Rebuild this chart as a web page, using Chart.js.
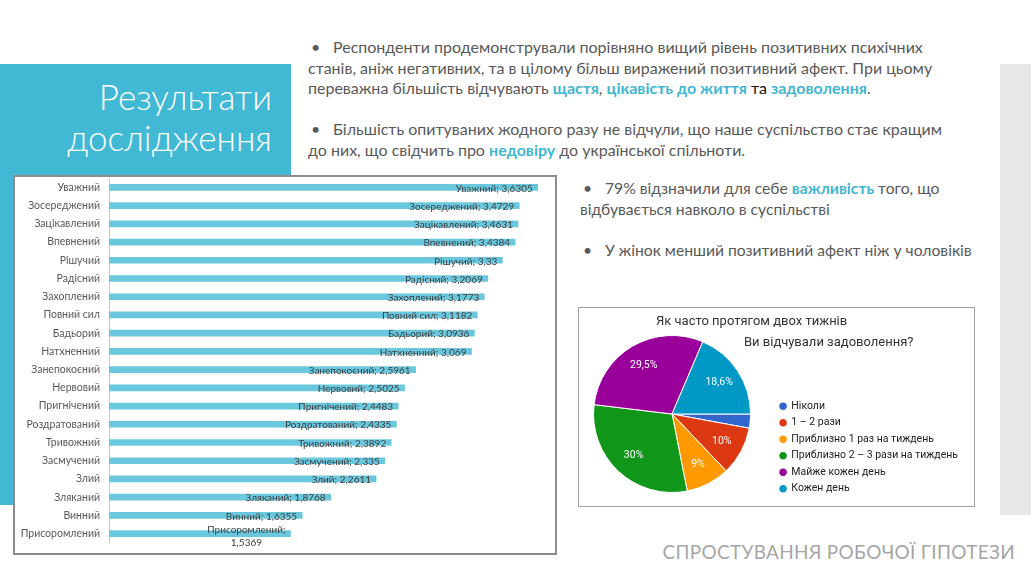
<!DOCTYPE html>
<html lang="uk">
<head>
<meta charset="utf-8">
<script src="https://cdn.jsdelivr.net/npm/chart.js@4.4.0/dist/chart.umd.min.js"></script>
<style>
  body { margin: 0; width: 1031px; height: 580px; position: relative; overflow: hidden; background: #fff; font-family: Lato, "Open Sans", sans-serif; color: #595959; }
  .band { position: absolute; left: 0; top: 64px; width: 291px; height: 441px; background: #41b8d4; }
  .side { position: absolute; left: 1000px; top: 64px; width: 31px; height: 451px; background: #e7e7e7; }
  .head { position: absolute; left: 0; top: 76px; width: 272px; text-align: right; color: #fff; font-size: 35px; line-height: 41px; font-weight: 300; }
  .txt { position: absolute; white-space: nowrap; }
  .top { left: 308px; top: 37px; font-size: 16px; line-height: 20.5px; }
  .right { left: 580px; top: 178px; font-size: 15.7px; line-height: 20.5px; }
  .b { display: inline-block; width: 22px; padding-left: 3px; }
  .hl { color: #3fb6d2; font-weight: 700; }
  .blk { color: #111; }
  .foot { position: absolute; right: 16px; top: 540px; font-size: 19px; color: #a6a6a6; letter-spacing: 0.3px; }
  .barbox { position: absolute; left: 13px; top: 175px; width: 544px; height: 380px; box-sizing: border-box; border: 2px solid #8c8c8c; background: #fff; }
  .barwrap { position: absolute; left: 15px; top: 172px; width: 540px; height: 377px; }
  .piebox { position: absolute; left: 578px; top: 307px; width: 397px; height: 200px; box-sizing: border-box; border: 1px solid #a0a0a0; background: #fff; }
  .piewrap { position: absolute; left: 570px; top: 308px; width: 404px; height: 198px; }
  .pt { position: absolute; white-space: nowrap; font-family: Roboto, Arial, sans-serif; font-size: 13px; color: #333; }
</style>
</head>
<body>
<div class="band"></div>
<div class="side"></div>
<div class="head">Результати<br>дослідження</div>

<div class="txt top">
  <span class="b">•</span>Респонденти продемонстрували порівняно вищий рівень позитивних психічних<br>
  станів, аніж негативних, та в цілому більш виражений позитивний афект. При цьому<br>
  переважна більшість відчувають <span class="hl">щастя</span>, <span class="hl">цікавість до життя</span> <span class="blk">та</span> <span class="hl">задоволення</span>.<br>
  <br>
  <span class="b">•</span>Більшість опитуваних жодного разу не відчули, що наше суспільство стає кращим<br>
  до них, що свідчить про <span class="hl">недовіру</span> до української спільноти.
</div>

<div class="txt right">
  <span class="b">•</span>79% відзначили для себе <span class="hl">важливість</span> того, що<br>
  відбувається навколо в суспільстві<br>
  <br>
  <span class="b">•</span>У жінок менший позитивний афект ніж у чоловіків
</div>

<div class="foot">СПРОСТУВАННЯ РОБОЧОЇ ГІПОТЕЗИ</div>

<div class="barbox"></div>
<div class="barwrap"><canvas id="barChart"></canvas></div>

<div class="piebox"></div>
<div class="piewrap"><canvas id="pieChart"></canvas></div>
<div class="pt" style="left:656px; top:313px;">Як часто протягом двох тижнів</div>
<div class="pt" style="left:744px; top:334px;">Ви відчували задоволення?</div>

<script>
// Середні значення по станах
const emotions = [
  'Уважний', 'Зосереджений', 'Зацікавлений', 'Впевнений', 'Рішучий',
  'Радісний', 'Захоплений', 'Повний сил', 'Бадьорий', 'Натхненний',
  'Занепокоєний', 'Нервовий', 'Пригнічений', 'Роздратований', 'Тривожний',
  'Засмучений', 'Злий', 'Зляканий', 'Винний', 'Присоромлений'
];
const emotionScores = [
  3.6305, 3.4729, 3.4631, 3.4384, 3.33,
  3.2069, 3.1773, 3.1182, 3.0936, 3.069,
  2.5961, 2.5025, 2.4483, 2.4335, 2.3892,
  2.335, 2.2611, 1.8768, 1.6355, 1.5369
];
// підписи, які в оригіналі перенесені на два рядки
const wrappedLabels = ['Присоромлений'];

// Опитування про задоволення
const pieLabels = [
  'Ніколи', '1 – 2 рази', 'Приблизно 1 раз на тиждень',
  'Приблизно 2 – 3 рази на тиждень', 'Майже кожен день', 'Кожен день'
];
const pieShares = [2.9, 10, 9, 30, 29.5, 18.6];
const pieColors = ['#3366cc', '#dc3912', '#ff9900', '#109618', '#990099', '#0099c6'];

const comma = v => String(v).replace('.', ',');

// підписи значень біля кінця кожного стовпчика
const barLabels = {
  id: 'barLabels',
  afterDatasetsDraw(chart) {
    const ctx = chart.ctx;
    const meta = chart.getDatasetMeta(0);
    ctx.save();
    ctx.font = '10px Lato, sans-serif';
    ctx.fillStyle = '#404040';
    ctx.textBaseline = 'middle';
    meta.data.forEach((bar, i) => {
      const name = emotions[i];
      const val = comma(emotionScores[i]);
      const right = bar.x - 5;
      if (wrappedLabels.includes(name)) {
        const first = name + ';';
        const w = ctx.measureText(first).width;
        ctx.textAlign = 'right';
        ctx.fillText(first, right, bar.y - 4);
        ctx.textAlign = 'center';
        ctx.fillText(val, right - w / 2, bar.y + 9);
      } else {
        ctx.textAlign = 'right';
        ctx.fillText(name + '; ' + val, right, bar.y + 1);
      }
    });
    ctx.restore();
  }
};

new Chart(document.getElementById('barChart'), {
  type: 'bar',
  data: {
    labels: emotions,
    datasets: [{
      data: emotionScores,
      backgroundColor: '#6ac8de',
      barThickness: 6
    }]
  },
  options: {
    indexAxis: 'y',
    responsive: true,
    maintainAspectRatio: false,
    animation: false,
    layout: { padding: { top: 0, bottom: 0, left: 0, right: 9 } },
    plugins: { legend: { display: false }, tooltip: { enabled: false } },
    scales: {
      x: { display: false, min: 0, max: 3.7 },
      y: {
        afterFit: s => { s.width = 94; },
        grid: { display: true, drawOnChartArea: false, drawTicks: true, tickLength: 9, tickColor: 'rgba(0,0,0,0)' },
        border: { display: true, color: '#c8c8c8', width: 1 },
        ticks: { padding: 0, color: '#595959', font: { family: 'Lato, sans-serif', size: 10.5 } }
      }
    }
  },
  plugins: [barLabels]
});

// відсотки всередині секторів
const pieValueLabels = {
  id: 'pieValueLabels',
  afterDatasetsDraw(chart) {
    const ctx = chart.ctx;
    const meta = chart.getDatasetMeta(0);
    ctx.save();
    ctx.font = '10.5px Roboto, Arial, sans-serif';
    ctx.fillStyle = '#fff';
    ctx.textAlign = 'center';
    ctx.textBaseline = 'middle';
    meta.data.forEach((arc, i) => {
      if (pieShares[i] < 5) return;
      const a = (arc.startAngle + arc.endAngle) / 2;
      const r = arc.outerRadius * 0.72;
      ctx.fillText(comma(pieShares[i]) + '%', arc.x + Math.cos(a) * r, arc.y + Math.sin(a) * r);
    });
    ctx.restore();
  }
};

// легенда в оригіналі трохи нижче за центр круга
const legendNudge = {
  id: 'legendNudge',
  afterLayout(chart) {
    chart.legend.top += 7;
    chart.legend.bottom += 7;
  }
};

new Chart(document.getElementById('pieChart'), {
  type: 'pie',
  data: {
    labels: pieLabels,
    datasets: [{
      data: pieShares,
      backgroundColor: pieColors,
      borderColor: '#fff',
      borderWidth: 1
    }]
  },
  options: {
    responsive: true,
    maintainAspectRatio: false,
    animation: false,
    rotation: 90,
    layout: { padding: { top: 27, bottom: 13, left: 0, right: 6 } },
    plugins: {
      tooltip: { enabled: false },
      legend: {
        position: 'right',
        align: 'end',
        labels: {
          usePointStyle: true,
          pointStyle: 'circle',
          boxWidth: 6,
          boxHeight: 6,
          padding: 6,
          color: '#222',
          font: { family: 'Roboto, Arial, sans-serif', size: 10.5 }
        }
      }
    }
  },
  plugins: [pieValueLabels, legendNudge]
});
</script>
</body>
</html>
